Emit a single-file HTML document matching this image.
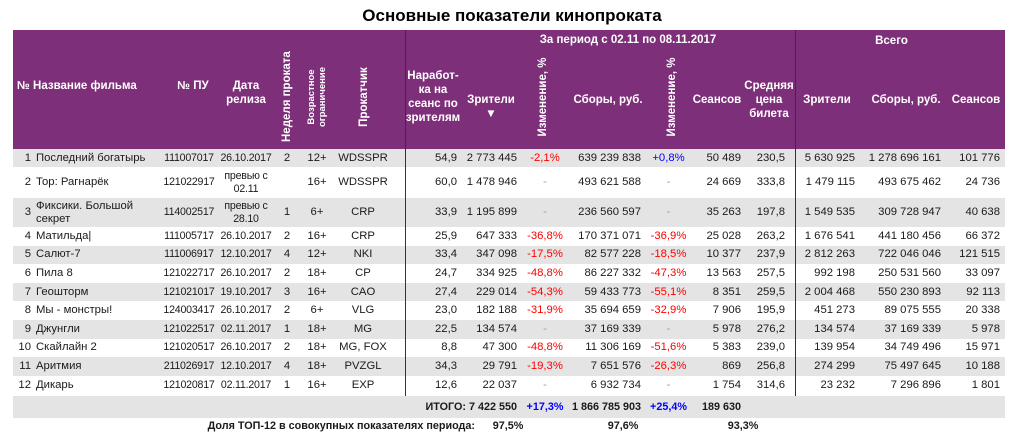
<!DOCTYPE html>
<html><head><meta charset="utf-8"><style>
*{margin:0;padding:0;box-sizing:border-box}
body{width:1024px;height:445px;background:#fff;position:relative;overflow:hidden;font-family:"Liberation Sans","DejaVu Sans",sans-serif;font-size:11.3px;color:#1a1a1a}
.t{position:absolute;left:0;width:1024px;top:6px;text-align:center;font-weight:bold;font-size:17px;color:#000}
.hd{position:absolute;left:13px;top:30px;width:992px;height:119px;background:#7e2f7a;color:#fff;font-weight:bold;font-size:11.5px}
.hd div{position:absolute;text-align:center;line-height:14px}
.rot{transform:rotate(-90deg);transform-origin:center;white-space:nowrap}
.r{position:absolute;left:13px;width:992px}
.g{background:#e4e4e4}
.r span{position:absolute;top:0;height:100%;display:flex;align-items:center;white-space:nowrap;line-height:13px}
.c1{left:0;width:18px;justify-content:flex-end}
.c2{left:23px;width:124px}
.c3{left:146px;width:60px;justify-content:center;font-size:10.6px;letter-spacing:-0.2px}
.c4{left:206px;width:54px;justify-content:center;text-align:center;font-size:10.6px;letter-spacing:-0.2px}
.c5{left:259px;width:30px;justify-content:center}
.c6{left:289px;width:30px;justify-content:center}
.c7{left:319px;width:62px;justify-content:center}
.c8{left:392px;width:52px;justify-content:flex-end}
.c9{left:444px;width:60px;justify-content:flex-end}
.c10{left:507px;width:50px;justify-content:center}
.c11{left:553px;width:75px;justify-content:flex-end}
.c12{left:632px;width:47px;justify-content:center}
.c13{left:679px;width:49px;justify-content:flex-end}
.c14{left:732px;width:40px;justify-content:flex-end}
.c15{left:780px;width:62px;justify-content:flex-end}
.c16{left:838px;width:90px;justify-content:flex-end}
.c17{left:937px;width:50px;justify-content:flex-end}
.red{color:#f00}.blu{color:#00f}.d{color:#c080c0}
.vl{position:absolute;top:30px;height:366px;width:1px;background:#333}
</style></head><body>
<div class="t">Основные показатели кинопроката</div>
<div class="hd">
<div style="left:4px;top:49px;width:140px;text-align:left">№ Название фильма</div>
<div style="left:150px;top:49px;width:60px">№ ПУ</div>
<div style="left:207px;top:49px;width:52px">Дата<br>релиза</div>
<div class="rot" style="left:229px;top:60px;width:90px">Неделя проката</div>
<div class="rot" style="left:264px;top:56px;width:80px;font-size:9.5px;line-height:11px">Возрастное<br>ограничение</div>
<div class="rot" style="left:316px;top:60px;width:70px">Прокатчик</div>
<div style="left:390px;top:39px;width:60px">Наработ-<br>ка на<br>сеанс по<br>зрителям</div>
<div style="left:448px;top:63px;width:60px">Зрители<br>▼</div>
<div style="left:480px;top:0;width:270px;line-height:20px">За период с 02.11 по 08.11.2017</div>
<div class="rot" style="left:490px;top:60px;width:80px">Изменение, %</div>
<div style="left:555px;top:63px;width:80px">Сборы, руб.</div>
<div class="rot" style="left:619px;top:60px;width:80px">Изменение, %</div>
<div style="left:678px;top:63px;width:52px">Сеансов</div>
<div style="left:728px;top:49px;width:56px">Средняя<br>цена<br>билета</div>
<div style="left:775px;top:0;width:207px;line-height:22px">Всего</div>
<div style="left:782px;top:63px;width:64px">Зрители</div>
<div style="left:850px;top:63px;width:86px">Сборы, руб.</div>
<div style="left:932px;top:63px;width:62px">Сеансов</div>
</div>

<div class="r g" style="top:149px;height:18px"><span class="c1">1</span><span class="c2">Последний богатырь</span><span class="c3">111007017</span><span class="c4">26.10.2017</span><span class="c5">2</span><span class="c6">12+</span><span class="c7">WDSSPR</span><span class="c8">54,9</span><span class="c9">2 773 445</span><span class="c10 red">-2,1%</span><span class="c11">639 239 838</span><span class="c12 blu">+0,8%</span><span class="c13">50 489</span><span class="c14">230,5</span><span class="c15">5 630 925</span><span class="c16">1 278 696 161</span><span class="c17">101 776</span></div>
<div class="r" style="top:167px;height:31px"><span class="c1">2</span><span class="c2">Тор: Рагнарёк</span><span class="c3">121022917</span><span class="c4">превью с<br>02.11</span><span class="c5"></span><span class="c6">16+</span><span class="c7">WDSSPR</span><span class="c8">60,0</span><span class="c9">1 478 946</span><span class="c10 d">-</span><span class="c11">493 621 588</span><span class="c12 d">-</span><span class="c13">24 669</span><span class="c14">333,8</span><span class="c15">1 479 115</span><span class="c16">493 675 462</span><span class="c17">24 736</span></div>
<div class="r g" style="top:198px;height:29px"><span class="c1">3</span><span class="c2">Фиксики. Большой<br>секрет</span><span class="c3">114002517</span><span class="c4">превью с<br>28.10</span><span class="c5">1</span><span class="c6">6+</span><span class="c7">CRP</span><span class="c8">33,9</span><span class="c9">1 195 899</span><span class="c10 d">-</span><span class="c11">236 560 597</span><span class="c12 d">-</span><span class="c13">35 263</span><span class="c14">197,8</span><span class="c15">1 549 535</span><span class="c16">309 728 947</span><span class="c17">40 638</span></div>
<div class="r" style="top:227px;height:18.6px"><span class="c1">4</span><span class="c2">Матильда|</span><span class="c3">111005717</span><span class="c4">26.10.2017</span><span class="c5">2</span><span class="c6">16+</span><span class="c7">CRP</span><span class="c8">25,9</span><span class="c9">647 333</span><span class="c10 red">-36,8%</span><span class="c11">170 371 071</span><span class="c12 red">-36,9%</span><span class="c13">25 028</span><span class="c14">263,2</span><span class="c15">1 676 541</span><span class="c16">441 180 456</span><span class="c17">66 372</span></div>
<div class="r g" style="top:245.6px;height:18.6px"><span class="c1">5</span><span class="c2">Салют-7</span><span class="c3">111006917</span><span class="c4">12.10.2017</span><span class="c5">4</span><span class="c6">12+</span><span class="c7">NKI</span><span class="c8">33,4</span><span class="c9">347 098</span><span class="c10 red">-17,5%</span><span class="c11">82 577 228</span><span class="c12 red">-18,5%</span><span class="c13">10 377</span><span class="c14">237,9</span><span class="c15">2 812 263</span><span class="c16">722 046 046</span><span class="c17">121 515</span></div>
<div class="r" style="top:264.2px;height:18.6px"><span class="c1">6</span><span class="c2">Пила 8</span><span class="c3">121022717</span><span class="c4">26.10.2017</span><span class="c5">2</span><span class="c6">18+</span><span class="c7">CP</span><span class="c8">24,7</span><span class="c9">334 925</span><span class="c10 red">-48,8%</span><span class="c11">86 227 332</span><span class="c12 red">-47,3%</span><span class="c13">13 563</span><span class="c14">257,5</span><span class="c15">992 198</span><span class="c16">250 531 560</span><span class="c17">33 097</span></div>
<div class="r g" style="top:282.8px;height:18.6px"><span class="c1">7</span><span class="c2">Геошторм</span><span class="c3">121021017</span><span class="c4">19.10.2017</span><span class="c5">3</span><span class="c6">16+</span><span class="c7">CAO</span><span class="c8">27,4</span><span class="c9">229 014</span><span class="c10 red">-54,3%</span><span class="c11">59 433 773</span><span class="c12 red">-55,1%</span><span class="c13">8 351</span><span class="c14">259,5</span><span class="c15">2 004 468</span><span class="c16">550 230 893</span><span class="c17">92 113</span></div>
<div class="r" style="top:301.4px;height:18.6px"><span class="c1">8</span><span class="c2">Мы - монстры!</span><span class="c3">124003417</span><span class="c4">26.10.2017</span><span class="c5">2</span><span class="c6">6+</span><span class="c7">VLG</span><span class="c8">23,0</span><span class="c9">182 188</span><span class="c10 red">-31,9%</span><span class="c11">35 694 659</span><span class="c12 red">-32,9%</span><span class="c13">7 906</span><span class="c14">195,9</span><span class="c15">451 273</span><span class="c16">89 075 555</span><span class="c17">20 338</span></div>
<div class="r g" style="top:320px;height:18.6px"><span class="c1">9</span><span class="c2">Джунгли</span><span class="c3">121022517</span><span class="c4">02.11.2017</span><span class="c5">1</span><span class="c6">18+</span><span class="c7">MG</span><span class="c8">22,5</span><span class="c9">134 574</span><span class="c10 d">-</span><span class="c11">37 169 339</span><span class="c12 d">-</span><span class="c13">5 978</span><span class="c14">276,2</span><span class="c15">134 574</span><span class="c16">37 169 339</span><span class="c17">5 978</span></div>
<div class="r" style="top:338.6px;height:18.6px"><span class="c1">10</span><span class="c2">Скайлайн 2</span><span class="c3">121020517</span><span class="c4">26.10.2017</span><span class="c5">2</span><span class="c6">18+</span><span class="c7">MG, FOX</span><span class="c8">8,8</span><span class="c9">47 300</span><span class="c10 red">-48,8%</span><span class="c11">11 306 169</span><span class="c12 red">-51,6%</span><span class="c13">5 383</span><span class="c14">239,0</span><span class="c15">139 954</span><span class="c16">34 749 496</span><span class="c17">15 971</span></div>
<div class="r g" style="top:357.2px;height:18.6px"><span class="c1">11</span><span class="c2">Аритмия</span><span class="c3">211026917</span><span class="c4">12.10.2017</span><span class="c5">4</span><span class="c6">18+</span><span class="c7">PVZGL</span><span class="c8">34,3</span><span class="c9">29 791</span><span class="c10 red">-19,3%</span><span class="c11">7 651 576</span><span class="c12 red">-26,3%</span><span class="c13">869</span><span class="c14">256,8</span><span class="c15">274 299</span><span class="c16">75 497 645</span><span class="c17">10 188</span></div>
<div class="r" style="top:375.8px;height:20px"><span class="c1">12</span><span class="c2">Дикарь</span><span class="c3">121020817</span><span class="c4">02.11.2017</span><span class="c5">1</span><span class="c6">16+</span><span class="c7">EXP</span><span class="c8">12,6</span><span class="c9">22 037</span><span class="c10 d">-</span><span class="c11">6 932 734</span><span class="c12 d">-</span><span class="c13">1 754</span><span class="c14">314,6</span><span class="c15">23 232</span><span class="c16">7 296 896</span><span class="c17">1 801</span></div>
<div class="r g" style="top:396px;height:22px;font-weight:bold;font-size:10.8px"><span style="left:380px;width:124px;justify-content:flex-end">ИТОГО: 7 422 550</span><span class="c10 blu">+17,3%</span><span class="c11">1 866 785 903</span><span class="c12 blu">+25,4%</span><span class="c13">189 630</span></div>
<div class="r" style="top:418px;height:16px;font-weight:bold;font-size:10.8px"><span style="left:0;width:462px;justify-content:flex-end">Доля ТОП-12 в совокупных показателях периода:</span><span style="left:470px;width:50px;justify-content:center">97,5%</span><span style="left:585px;width:50px;justify-content:center">97,6%</span><span style="left:705px;width:50px;justify-content:center">93,3%</span></div>
<div class="vl" style="left:405px"></div>
<div class="vl" style="left:795px"></div>
</body></html>
